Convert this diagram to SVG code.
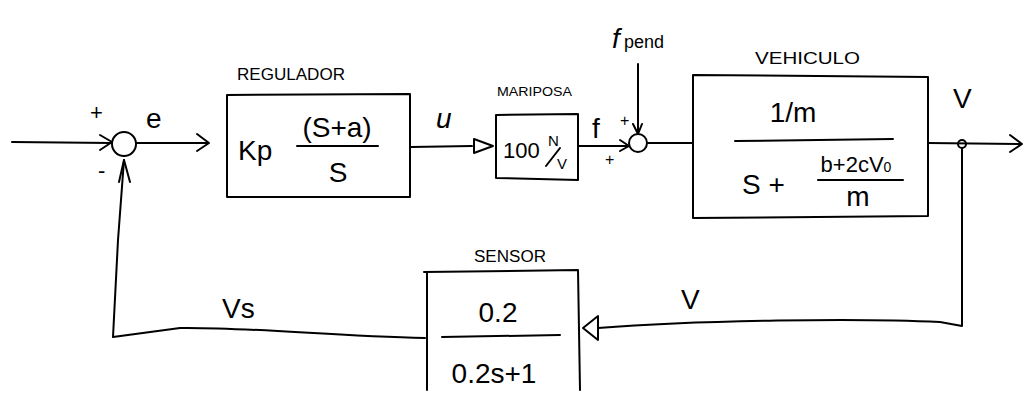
<svg xmlns="http://www.w3.org/2000/svg" width="1030" height="394" viewBox="0 0 1030 394">
<style>
.l{fill:none;stroke:#000;stroke-width:2;stroke-linecap:round;stroke-linejoin:round}
.t{font-family:"Liberation Sans",Arial,sans-serif;fill:#000}
.big{font-size:28px}
.mid{font-size:22px}
.sm{font-size:16px}
</style>
<rect width="1030" height="394" fill="#fff"/>
<g id="connectors">
  <path class="l" d="M12,142 L111,143"/>
  <path class="l" d="M100,135 L112,142 L100,150"/>
  <path class="l" d="M136,143 L208,143"/>
  <path class="l" d="M197,134 L209,143 L197,151"/>
  <path class="l" d="M411,147 L472,146"/>
  <path class="l" d="M474,139 L493,146 L474,153 Z"/>
  <path class="l" d="M578,146 L628,146"/>
  <path class="l" d="M620,140 L629,146 L620,151"/>
  <path class="l" d="M638,64 L638,133"/>
  <path class="l" d="M633,124 L638,134 L642,124"/>
  <path class="l" d="M648,143 L692,143"/>
  <path class="l" d="M928,143 L1021,144"/>
  <path class="l" d="M1010,135 L1022,144 L1010,152"/>
  <circle class="l" cx="962" cy="144" r="4"/>
  <path class="l" d="M962,148 L962,326 L940,322 C860,318 700,320 598,328"/>
  <path class="l" d="M598,316 L583,328 L598,340 Z"/>
  <path class="l" d="M425,338 C330,336 250,327 180,328 L113,337 L118,240 L124,160"/>
  <path class="l" d="M119,182 L124,160 L130,182"/>
  <text class="t mid" x="90" y="120">+</text>
  <text class="t mid" x="98" y="178">-</text>
  <text class="t big" x="146" y="128">e</text>
  <text class="t big" x="436" y="128" font-style="italic">u</text>
  <text class="t big" x="592" y="138">f</text>
  <text class="t" font-size="16" x="605" y="165">+</text>
  <text class="t" font-size="16" x="620" y="126">+</text>
  <text class="t" font-size="28" x="612" y="48" font-style="italic">f</text>
  <text class="t" font-size="18" x="624" y="48">pend</text>
  <text class="t big" x="953" y="108">V</text>
  <text class="t big" x="681" y="309">V</text>
  <text class="t big" x="222" y="318">Vs</text>
</g>
<g id="regulador">
  <text class="t sm" x="237" y="80" textLength="108" lengthAdjust="spacingAndGlyphs">REGULADOR</text>
  <path class="l" d="M227,95 L410,94 L410,197 L227,197 Z"/>
  <text class="t big" x="238" y="160">Kp</text>
  <text class="t big" x="337" y="137" text-anchor="middle">(S+a)</text>
  <path class="l" d="M297,146 L378,146"/>
  <text class="t big" x="338" y="182" text-anchor="middle">S</text>
</g>
<g id="mariposa">
  <text class="t" font-size="13" x="497" y="96" textLength="75" lengthAdjust="spacingAndGlyphs">MARIPOSA</text>
  <path class="l" d="M496,115 L578,114 L578,180 L496,178 Z"/>
  <text class="t" font-size="22" x="503" y="158">100</text>
  <text class="t" font-size="15" x="548" y="146">N</text>
  <path class="l" d="M546,166 L560,148"/>
  <text class="t" font-size="15" x="557" y="169">V</text>
</g>
<g id="sum2">
  <circle class="l" cx="638" cy="143" r="9"/>
</g>
<g id="sum1">
  <circle class="l" cx="124" cy="144" r="12"/>
</g>
<g id="vehiculo">
  <text class="t sm" x="755" y="64" textLength="105" lengthAdjust="spacingAndGlyphs">VEHICULO</text>
  <path class="l" d="M693,75 L928,77 L928,216 L693,218 Z"/>
  <text class="t big" x="793" y="122" text-anchor="middle">1/m</text>
  <path class="l" d="M735,141 L893,139"/>
  <text class="t big" x="742" y="194">S +</text>
  <text class="t mid" x="856" y="172" text-anchor="middle">b+2cV<tspan font-size="14">0</tspan></text>
  <path class="l" d="M818,180 L903,180"/>
  <text class="t big" x="858" y="206" text-anchor="middle">m</text>
</g>
<g id="sensor">
  <text class="t sm" x="474" y="262" textLength="72" lengthAdjust="spacingAndGlyphs">SENSOR</text>
  <path class="l" d="M424,272 L578,270 L580,390 M427,272 L427,390"/>
  <text class="t big" x="498" y="322" text-anchor="middle">0.2</text>
  <path class="l" d="M442,337 L560,335"/>
  <text class="t big" x="494" y="383" text-anchor="middle">0.2s+1</text>
</g>
</svg>
